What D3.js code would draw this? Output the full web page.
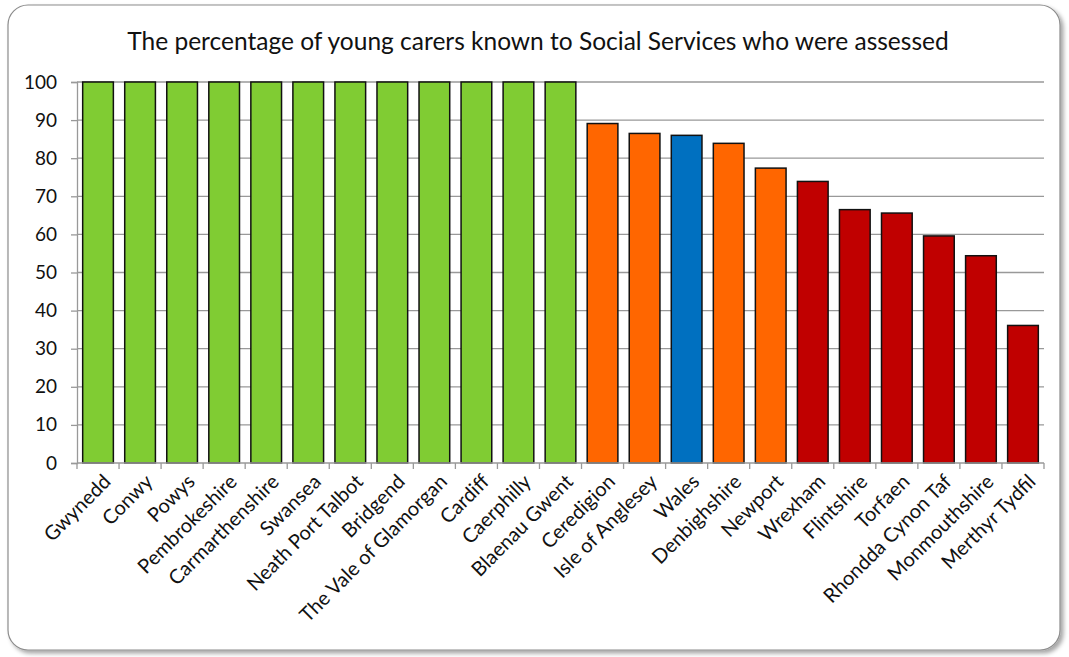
<!DOCTYPE html>
<html>
<head>
<meta charset="utf-8">
<script src="https://cdn.jsdelivr.net/npm/d3@7"></script>
<style>
  body { margin: 0; background: #fff; }
  svg { display: block; font-family: Lato, "Open Sans", sans-serif; }
</style>
</head>
<body>
<div id="chart"></div>
<script>
(function() {
    // Data
    var areas = ["Gwynedd", "Conwy", "Powys", "Pembrokeshire", "Carmarthenshire", "Swansea",
        "Neath Port Talbot", "Bridgend", "The Vale of Glamorgan", "Cardiff", "Caerphilly",
        "Blaenau Gwent", "Ceredigion", "Isle of Anglesey", "Wales", "Denbighshire", "Newport",
        "Wrexham", "Flintshire", "Torfaen", "Rhondda Cynon Taf", "Monmouthshire", "Merthyr Tydfil"];
    var assessed = [100, 100, 100, 100, 100, 100, 100, 100, 100, 100, 100, 100,
        89.1, 86.5, 86.0, 83.9, 77.4, 73.9, 66.5, 65.6, 59.6, 54.4, 36.1];
    var bands = ["green", "green", "green", "green", "green", "green", "green", "green", "green",
        "green", "green", "green", "orange", "orange", "wales", "orange", "orange",
        "red", "red", "red", "red", "red", "red"];
    var yTicks = [0, 10, 20, 30, 40, 50, 60, 70, 80, 90, 100];

    var colours = {green: "#80cc33", orange: "#ff6600", wales: "#0070c0", red: "#c00000"};

    var W = 1069, H = 657;
    var margin = {top: 82, right: 25, bottom: 194, left: 77};
    var width = W - margin.left - margin.right,
        height = H - margin.top - margin.bottom;

    var svg = d3.select("#chart").append("svg")
        .attr("width", W)
        .attr("height", H);

    // Frame with a soft shadow
    var defs = svg.append("defs");
    var f = defs.append("filter").attr("id", "shadow")
        .attr("x", "-5%").attr("y", "-5%").attr("width", "110%").attr("height", "110%");
    f.append("feDropShadow").attr("dx", 3).attr("dy", 3).attr("stdDeviation", 2)
        .attr("flood-color", "#000").attr("flood-opacity", 0.35);

    svg.append("rect")
        .attr("x", 8).attr("y", 5)
        .attr("width", 1052).attr("height", 645)
        .attr("rx", 20).attr("ry", 20)
        .attr("fill", "#fff")
        .attr("stroke", "#8c8c8c")
        .attr("stroke-width", 1.2)
        .attr("filter", "url(#shadow)");

    svg.append("text")
        .attr("x", 538)
        .attr("y", 50)
        .attr("text-anchor", "middle")
        .attr("font-size", "24.5px")
        .attr("fill", "#111")
        .text("The percentage of young carers known to Social Services who were assessed");

    var g = svg.append("g")
        .attr("transform", "translate(" + margin.left + "," + margin.top + ")");

    var x = d3.scaleBand().domain(areas).range([0, width]).paddingInner(0.27).paddingOuter(0.135);
    var y = d3.scaleLinear().domain([0, 100]).range([height, 0]);

    // Gridlines
    g.append("g")
        .selectAll("line")
        .data(yTicks.slice(1))
        .join("line")
        .attr("x1", 0).attr("x2", width)
        .attr("y1", function(d) { return y(d); })
        .attr("y2", function(d) { return y(d); })
        .attr("stroke", "#999")
        .attr("stroke-width", 1.3);

    // Y axis
    var yAxis = g.append("g")
        .call(d3.axisLeft(y).tickValues(yTicks).tickSize(6).tickPadding(14));
    yAxis.select(".domain").attr("stroke", "#999").attr("stroke-width", 1.3);
    yAxis.selectAll(".tick line").attr("stroke", "#999").attr("stroke-width", 1.3);
    yAxis.selectAll("text")
        .attr("font-family", "Lato, 'Open Sans', sans-serif")
        .attr("font-size", "19px")
        .attr("fill", "#111");

    // Bars
    g.selectAll(".bar")
        .data(areas)
        .join("rect")
        .attr("class", "bar")
        .attr("x", function(d) { return x(d); })
        .attr("y", function(d, i) { return y(assessed[i]); })
        .attr("width", x.bandwidth())
        .attr("height", function(d, i) { return height - y(assessed[i]); })
        .attr("fill", function(d, i) { return colours[bands[i]]; })
        .attr("stroke", "#111")
        .attr("stroke-width", 1.5);

    // X axis: tick marks between the categories
    var step = x.step();
    var boundaries = areas.map(function(d) { return x(d) - x.paddingOuter() * step; })
        .concat([width]);
    var xAxis = g.append("g").attr("transform", "translate(0," + height + ")");
    xAxis.append("line")
        .attr("x1", 0).attr("x2", width)
        .attr("stroke", "#999").attr("stroke-width", 1.3);
    xAxis.selectAll(".xtick")
        .data(boundaries)
        .join("line")
        .attr("class", "xtick")
        .attr("x1", function(d) { return d; }).attr("x2", function(d) { return d; })
        .attr("y1", 0).attr("y2", 6)
        .attr("stroke", "#999").attr("stroke-width", 1.3);

    xAxis.selectAll(".xlabel")
        .data(areas)
        .join("text")
        .attr("class", "xlabel")
        .attr("text-anchor", "end")
        .attr("font-size", "20px")
        .attr("fill", "#111")
        .attr("transform", function(d) {
            return "translate(" + (x(d) + x.bandwidth() / 2 + 9) + ",15) rotate(-45)";
        })
        .attr("dy", "0.35em")
        .text(function(d) { return d; });
})();
</script>
</body>
</html>
